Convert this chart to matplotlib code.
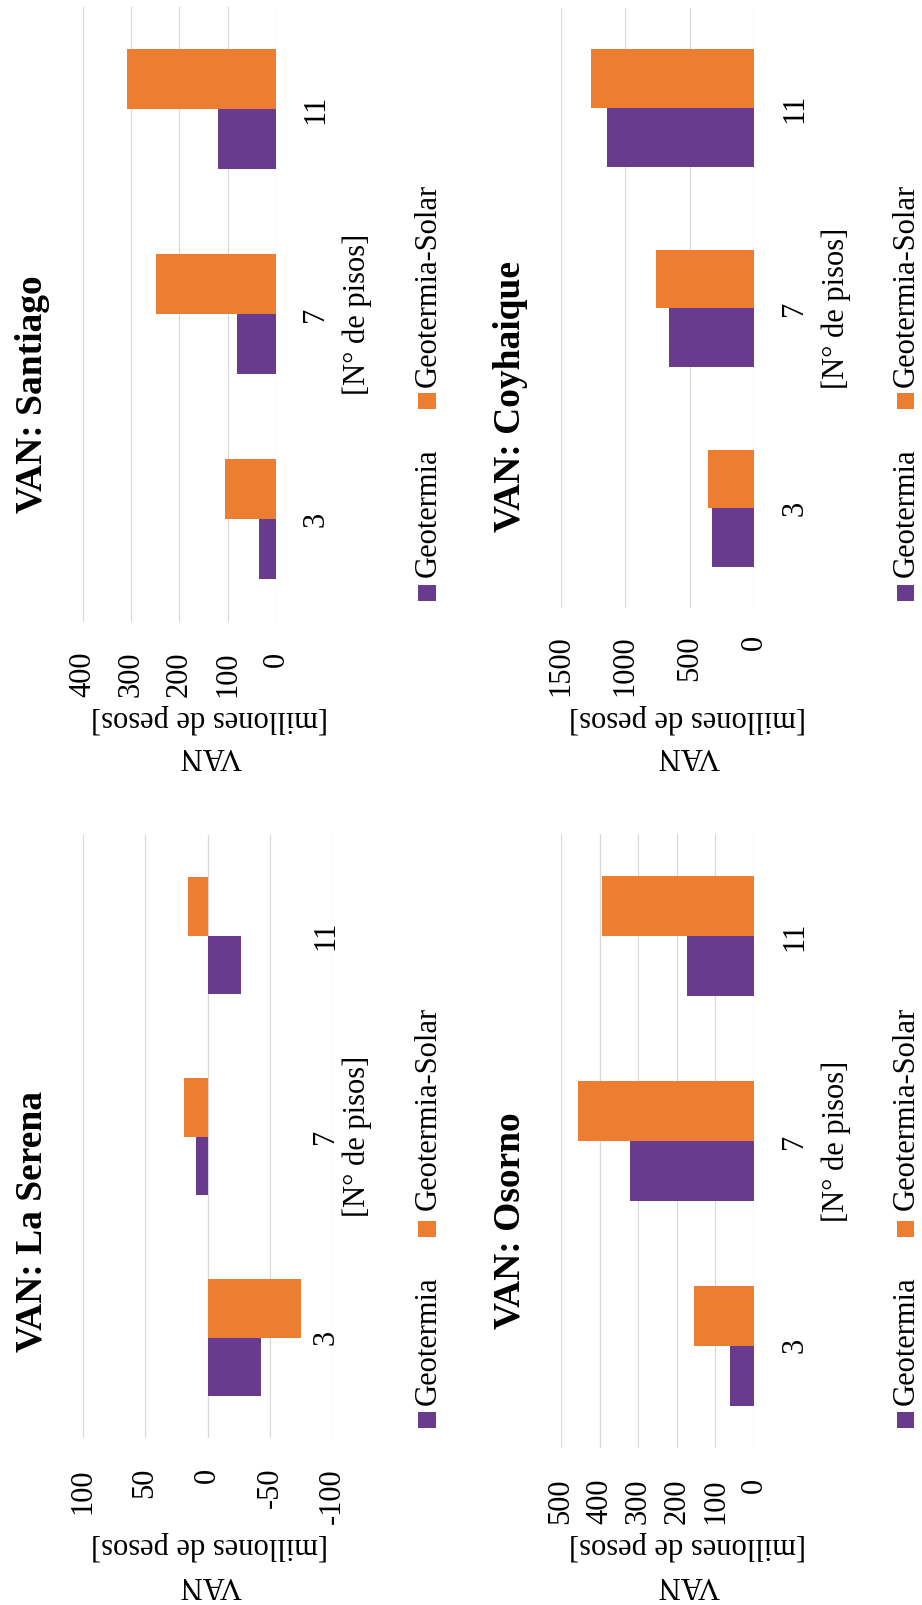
import matplotlib
matplotlib.use("Agg")
import matplotlib.pyplot as plt
from matplotlib.patches import Rectangle
from matplotlib.transforms import blended_transform_factory
import numpy as np

plt.rcParams['font.family'] = ['Liberation Serif', 'DejaVu Serif']

# ---- data (VAN in millones de pesos) ----
categories = ["3", "7", "11"]
series_names = ["Geotermia", "Geotermia-Solar"]

santiago_geotermia = [35, 80, 121]
santiago_geo_solar = [105, 248, 308]

coyhaique_geotermia = [324, 663, 1140]
coyhaique_geo_solar = [355, 762, 1267]

serena_geotermia = [-43, 9, -27]
serena_geo_solar = [-75, 19, 16]

osorno_geotermia = [62, 320, 174]
osorno_geo_solar = [155, 455, 394]

santiago_ticks = [0, 100, 200, 300, 400]
coyhaique_ticks = [0, 500, 1000, 1500]
serena_ticks = [-100, -50, 0, 50, 100]
osorno_ticks = [0, 100, 200, 300, 400, 500]

santiago_tick_labels = ["0", "100", "200", "300", "400"]
coyhaique_tick_labels = ["0", "500", "1000", "1500"]
serena_tick_labels = ["-100", "-50", "0", "50", "100"]
osorno_tick_labels = ["0", "100", "200", "300", "400", "500"]

titles = ["VAN: Santiago", "VAN: Coyhaique", "VAN: La Serena", "VAN: Osorno"]
x_title = "[N° de pisos]"
y_title_lines = ["[millones de pesos]", "VAN"]

PURPLE = "#683B8E"
ORANGE = "#ED7D31"
GRID = "#D9D9D9"
FS = 22
FS_TITLE = 27

W, H = 922, 1605
fig = plt.figure(figsize=(W / 100, H / 100), dpi=100)


def fx(x):
    return x / W


def fy(y):
    return 1 - y / H


# page is laid out sideways: each chart is drawn turned a quarter turn
panels = [
    dict(title=titles[0], geo=santiago_geotermia, gs=santiago_geo_solar,
         ticks=santiago_ticks, tlabels=santiago_tick_labels, lim=(400, 0),
         box=(82.7, 7, 276, 621.7), pad=30, col=0, row=0, cat_x=323, title_y=394),
    dict(title=titles[1], geo=coyhaique_geotermia, gs=coyhaique_geo_solar,
         ticks=coyhaique_ticks, tlabels=coyhaique_tick_labels, lim=(1500, 0),
         box=(561, 8, 754, 608.3), pad=27, col=1, row=0, cat_x=802, title_y=396),
    dict(title=titles[2], geo=serena_geotermia, gs=serena_geo_solar,
         ticks=serena_ticks, tlabels=serena_tick_labels, lim=(100, -100),
         box=(82.7, 835, 332.3, 1438), pad=30, col=0, row=1, cat_x=333, title_y=1221.5),
    dict(title=titles[3], geo=osorno_geotermia, gs=osorno_geo_solar,
         ticks=osorno_ticks, tlabels=osorno_tick_labels, lim=(500, 0),
         box=(561, 834, 754, 1448), pad=30, col=1, row=1, cat_x=802, title_y=1220.5),
]

col_geom = [
    dict(title_x=42, xt_x=365, leg_sq=(418, 436), leg_txt=436, ylab_x=210),
    dict(title_x=520, xt_x=844, leg_sq=(897, 914), leg_txt=914, ylab_x=688),
]
row_geom = [
    dict(sq_geo=(585, 601), txt_geo=577, sq_gs=(393, 409), txt_gs=387,
         ylab_b1=710.5, ylab_b2=748),
    dict(sq_geo=(1412, 1428), txt_geo=1405, sq_gs=(1221, 1237), txt_gs=1210,
         ylab_b1=1538, ylab_b2=1577),
]

bar_h = 0.293
pos = np.arange(len(categories))

for p in panels:
    cg = col_geom[p["col"]]
    rg = row_geom[p["row"]]
    x0, y0, x1, y1 = p["box"]
    ax = fig.add_axes([fx(x0), fy(y1), (x1 - x0) / W, (y1 - y0) / H])

    ax.barh(pos - bar_h / 2, p["geo"], height=bar_h, color=PURPLE, zorder=3)
    ax.barh(pos + bar_h / 2, p["gs"], height=bar_h, color=ORANGE, zorder=3)

    ax.set_xlim(*p["lim"])
    ax.set_ylim(-0.5, len(categories) - 0.5)
    ax.set_xticks(p["ticks"], p["tlabels"], rotation=90, fontsize=FS)
    ax.set_yticks([])
    ax.tick_params(axis="x", length=0, pad=p["pad"] * 0.72)
    ax.xaxis.grid(True, color=GRID, linewidth=0.9)
    ax.set_axisbelow(True)
    for s in ax.spines.values():
        s.set_visible(False)

    # category labels beside the bars
    tr = blended_transform_factory(fig.transFigure, ax.transData)
    for i, c in enumerate(categories):
        ax.text(fx(p["cat_x"]), pos[i], c, transform=tr, rotation=90,
                rotation_mode="anchor", ha="center", va="baseline", fontsize=FS)

    # chart title
    fig.text(fx(cg["title_x"]), fy(p["title_y"]), p["title"], rotation=90,
             rotation_mode="anchor", ha="center", va="baseline",
             fontsize=FS_TITLE, fontweight="bold")

    # category axis title
    fig.text(fx(cg["xt_x"]), fy((y0 + y1) / 2), x_title, rotation=90,
             rotation_mode="anchor", ha="center", va="baseline", fontsize=FS)

    # value axis title (two lines)
    fig.text(fx(cg["ylab_x"]), fy(rg["ylab_b1"]), y_title_lines[0], rotation=180,
             rotation_mode="anchor", ha="center", va="baseline", fontsize=FS)
    fig.text(fx(cg["ylab_x"]), fy(rg["ylab_b2"]), y_title_lines[1], rotation=180,
             rotation_mode="anchor", ha="center", va="baseline", fontsize=FS)

    # legend
    sx0, sx1 = cg["leg_sq"]
    for (sq, ty, color, name) in [(rg["sq_geo"], rg["txt_geo"], PURPLE, series_names[0]),
                                  (rg["sq_gs"], rg["txt_gs"], ORANGE, series_names[1])]:
        fig.add_artist(Rectangle((fx(sx0), fy(sq[1])), (sx1 - sx0) / W, (sq[1] - sq[0]) / H,
                                 transform=fig.transFigure, color=color, linewidth=0))
        fig.text(fx(cg["leg_txt"]), fy(ty), name, rotation=90, rotation_mode="anchor",
                 ha="left", va="baseline", fontsize=FS)

fig.savefig("out.png", dpi=100, facecolor="white")
